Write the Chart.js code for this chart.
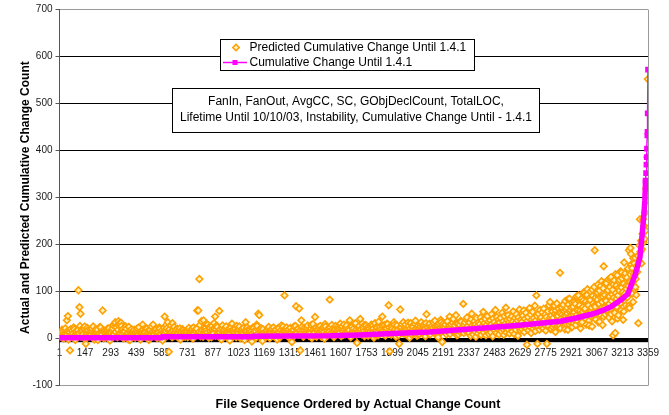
<!DOCTYPE html>
<html>
<head>
<meta charset="utf-8">
<script src="https://cdn.jsdelivr.net/npm/chart.js@4.4.1/dist/chart.umd.min.js"></script>
<style>
  html, body { margin: 0; padding: 0; background: #ffffff; }
  canvas { display: block; }
</style>
</head>
<body>
<canvas id="chart" width="669" height="415"></canvas>
<script>
// Category tick labels along the file sequence
const xTickLabels = [1, 147, 293, 439, 585, 731, 877, 1023, 1169, 1315, 1461, 1607,
  1753, 1899, 2045, 2191, 2337, 2483, 2629, 2775, 2921, 3067, 3213, 3359];

// Actual cumulative change count (files sorted by actual count)
const actualFiles = [1, 584, 585, 1104, 1105, 1545, 1717, 1900, 2115, 2289, 2496, 2575,
  2700, 2861, 2950, 3047, 3100, 3148, 3199, 3244, 3266, 3285, 3298, 3313, 3326, 3336,
  3341, 3345, 3348, 3350, 3352, 3353, 3355, 3356, 3357, 3359];
const actualCounts = [2, 2, 4, 4, 5, 6, 8, 11, 14, 19, 25, 27,
  31, 37, 44, 53, 60, 68, 81, 95, 117, 135, 152, 173, 223, 266,
  294, 336, 352, 370, 386, 404, 432, 440, 479, 572];

// Predicted cumulative change, files 1..1165 (every 6th file)
const predAFirst = 1, predAStep = 6;
const predA = [
  8, 12, 3, 15, 0, 18, 10, 39, 48, 14,
  -25, 9, 17, 4, 20, -3, 16, 7, 103, 67,
  53, 13, 22, 2, 26, -11, 10, 18, 5, 14,
  9, 21, 26, -2, 15, 11, 19, 7, 12, 24,
  13, 60, 1, 17, 5, 14, 10, 22, -4, 12,
  18, 29, 9, 35, 24, 3, 37, 32, 11, 27,
  20, 0, 15, 26, 5, 12, 25, -3, 9, 14,
  11, 19, 2, 15, 22, 8, 13, -2, 17, 30,
  10, 16, 4, 21, 12, -3, 18, 9, 14, 30,
  8, 15, 20, 1, 13, 24, 10, 17, -4, 12,
  47, 16, 22, 35, -28, 12, 28, 3, 18, 25,
  14, 6, 21, 11, 17, -2, 13, 20, 9, 15,
  12, 18, 3, 23, 10, 16, 21, 0, 14, 19,
  15, 60, 60, 127, 5, 37, 9, 39, 17, 24,
  18, 30, 2, 22, 8, 27, 15, 33, 47, 20,
  25, 6, 59, 20, -2, 28, 16, 11, 22, 4,
  13, 19, -4, 24, 32, 15, 6, 21, 3, 17,
  12, 26, 1, 18, 14, 23, -3, 35, 16, 8,
  20, 4, 15, -6, 24, 13, 18, 2, 27, 53,
  50, 14, 22, -5, 11
];

// Predicted cumulative change, files 4..1168 (every 6th file)
const predA2First = 4, predA2Step = 6;
const predA2 = [
  5, 14, 19, 2, 11, 22, 7, 16, -2, 13,
  20, 6, 10, 24, 1, 15, 8, 18, 12, 27,
  4, 17, 9, 21, -1, 14, 23, 6, 11, 19,
  16, 3, 12, 8, 20, 14, -3, 10, 25, 5,
  9, 18, 13, 2, 16, 21, 7, 11, 15, 4,
  22, 10, 31, 14, 6, 19, 28, 12, 34, 8,
  13, 17, 4, 21, 10, -2, 16, 12, 20, 7,
  15, 5, 12, 18, 9, 24, 3, 14, 11, 19,
  6, 13, 22, 8, 17, 2, 11, 26, 15, 9,
  18, 4, 12, 16, 7, 21, 10, 2, 14, 23,
  11, 29, 6, 17, 20, 9, 15, 33, 5, 13,
  19, 10, 3, 16, 22, 12, 7, 18, 14, 4,
  9, 15, 20, 6, 13, 17, 2, 24, 11, 16,
  21, 8, 14, 29, 12, 18, 4, 22, 10, 31,
  13, 7, 25, 16, 3, 19, 11, 21, 6, 28,
  10, 17, 14, 2, 23, 12, 19, 7, 26, 15,
  8, 22, 11, 16, 5, 20, 13, 9, 27, 14,
  18, 6, 15, 21, 10, 3, 17, 12, 24, 9,
  14, 19, 7, 12, 22, 5, 16, 30, 11, 18,
  6, 17, 12, 20, 9
];

// Predicted cumulative change, files 1171..2335 (every 6th file)
const predBFirst = 1171, predBStep = 6;
const predB = [
  12, 3, 18, 8, 25, 1, 14, 21, 6, 16,
  10, 19, -2, 23, 13, 7, 28, 11, 17, 92,
  15, 24, 5, 20, 2, 14, -7, 18, 26, 8,
  69, 12, 21, 64, -25, 39, 16, 4, 23, 11,
  19, 28, 6, 15, 22, 1, 31, 14, 46, 24,
  9, 20, 13, 27, 4, 18, 25, 0, 26, 8,
  17, 22, 83, 11, 29, 15, 3, 21, 13, 24,
  10, 18, 32, 5, 26, 8, 20, 16, 28, 12,
  22, 39, 3, 25, 17, 9, 30, 19, -9, 15,
  27, 42, 11, 32, 21, 5, 29, 8, 24, 18,
  13, 26, 19, 28, 2, 33, 16, 23, 7, 20,
  25, 14, 47, 18, 29, 6, 22, 31, 71, -27,
  17, 26, 11, 35, 20, 4, 28, 9, -11, 62,
  24, 13, 35, 19, 30, 8, 22, 27, 2, 33,
  18, 25, 12, 31, 21, 6, 28, 10, 26, 35,
  14, 29, 22, 5, 52, 24, 11, 32, 19, 27,
  23, 15, 38, 20, 28, 3, 33, 18, 35, -7,
  26, 16, 30, 9, 37, 13, 47, 24, 19, 34,
  21, 28, 50, 7, 32, 25, 14, 36, 23, 74,
  29, 18, 40, 26, 12
];

// Predicted cumulative change, files 1174..2332 (every 6th file)
const predB2First = 1174, predB2Step = 6;
const predB2 = [
  7, 16, 11, 21, 4, 14, 19, 9, 24, 12,
  17, 6, 13, 22, 2, 18, 10, 26, 15, 8,
  20, 11, 16, 3, 23, 13, 9, 19, 6, 27,
  14, 21, 8, 17, 12, 25, 5, 18, 10, 15,
  23, 9, 16, 12, 29, 7, 19, 13, 21, 4,
  16, 25, 10, 18, 6, 22, 14, 31, 11, 19,
  8, 15, 24, 12, 20, 5, 17, 27, 10, 14,
  22, 13, 6, 19, 15, 30, 9, 23, 17, 11,
  18, 7, 26, 14, 21, 12, 33, 8, 16, 24,
  13, 20, 9, 25, 16, 11, 28, 19, 6, 22,
  15, 30, 12, 21, 8, 17, 25, 14, 36, 10,
  19, 13, 27, 9, 22, 16, 32, 11, 24, 18,
  8, 21, 15, 29, 12, 26, 18, 7, 23, 14,
  31, 17, 10, 25, 20, 13, 34, 16, 22, 9,
  27, 12, 19, 38, 15, 24, 8, 21, 30, 17,
  11, 26, 20, 33, 14, 18, 29, 9, 23, 16,
  35, 12, 25, 19, 7, 28, 22, 40, 15, 31,
  18, 24, 13, 36, 21, 27, 10, 30, 16, 42,
  25, 14, 33, 20, 9, 29, 38, 17, 26, 12,
  35, 22, 45, 19
];

// Predicted cumulative change, files 2338..3358 (every 3rd file)
const predCFirst = 2338, predCStep = 3;
const predC = [
  12, 34, 22, 6, 41, 53, 28, 18, 9, 25, 37, 15, 30, 4, 44, 20, 27, 11, 35, 23,
  31, 16, 45, 8, 26, 38, 19, 57, 13, 33, 24, 42, 7, 29, 17, 48, 21, 36, 10, 27,
  39, 14, 30, 52, 22, 5, 43, 26, 35, 18, 61, 28, 12, 46, 32, 20, 40, 9, 34, 25,
  44, 16, 29, 55, 21, 37, 8, 48, 31, 24, 66, 13, 40, 27, 50, 19, 35, 11, 42, 30,
  23, 47, 15, 36, 58, 26, 10, 44, 33, 19, 52, 28, 39, 6, 45, 24, 62, 30, 17, 41,
  35, 20, 49, 27, 60, 14, 42, 31, 55, 22, -13, 38, 46, 18, 29, 65, 25, 51, 12, 40,
  33, 57, 21, 44, 28, 70, 16, 39, 92, 48, -11, 26, 53, 35, 19, 61, 30, 45, 24, 56,
  37, 22, 64, 41, 29, 52, 17, 46, -11, 33, 58, 27, 71, 40, 78, 20, 49, 36, 62, 25,
  44, 30, 69, 53, 18, 60, 38, 75, 27, 48, 64, 33, 56, 140, 22, 43, 67, 51, 35, 72,
  39, 58, 26, 80, 47, 31, 66, 54, 19, 73, 42, 85, 36, 61, 50, 24, 77, 45, 68, 33,
  56, 40, 74, 29, 88, 51, 63, 37, 92, 70, 46, 59, 22, 83, 55, 35, 67, 81, 48, 97,
  62, 44, 79, 30, 95, 105, 53, 71, 38, 86, 58, 100, 47, 66, 26, 91, 75, 52, 110, 188,
  68, 41, 96, 57, 83, 115, 35, 74, 102, 60, 88, 49, 122, 78, 29, 107, 154, 65, 93, 52,
  84, 118, 58, 99, 71, 126, 45, 90, 110, 63, 131, 80, 37, 104, 7, 87, 124, 55, 12, 97,
  113, 68, 135, 92, 50, 121, 102, 76, 143, 60, 109, 128, 85, 40, 117, 162, 95, 139, 71, 106,
  130, 88, 146, 112, 188, 65, 124, 193, 180, 98, 150, 119, 78, 138, 160, 105, 172, 127, 93, 155,
  142, 176, 33, 165, 198, 254, 185, 208, 160, 190, 223, 254, 205, 240, 212, 268, 230, 319, 294, 386,
  552
];

// Predicted cumulative change, files 2801..3287 (every 6th file)
const predC2First = 2801, predC2Step = 6;
const predC2 = [
  45, 21, 58, 32, 70, 14, 50, 39, 63, 27, 54,
  36, 72, 48, 20, 61, 43, 84, 31, 56, 67, 25,
  52, 78, 38, 90, 60, 46, 71, 33, 85, 57, 99,
  64, 42, 93, 75, 28, 82, 59, 104, 48, 70, 87,
  54, 98, 73, 36, 112, 66, 89, 47, 118, 80, 61,
  103, 74, 128, 52, 94, 115, 69, 137, 85, 43, 108,
  125, 76, 141, 99, 58, 132, 112, 88, 149, 70, 120,
  158, 96, 171, 134, 110
];

const FONT = "'Liberation Sans', Arial, sans-serif";
const ORANGE = '#FFA000';
const ORANGE_FILL = '#FFF0BE';
const MAGENTA = '#FF00FF';

const toPoints = (vals, first, step) => vals.map((v, i) => ({ x: first + step * i, y: v }));
const predicted = [
  ...toPoints(predA, predAFirst, predAStep),
  ...toPoints(predA2, predA2First, predA2Step),
  ...toPoints(predB, predBFirst, predBStep),
  ...toPoints(predB2, predB2First, predB2Step),
  ...toPoints(predC, predCFirst, predCStep),
  ...toPoints(predC2, predC2First, predC2Step)
].sort((a, b) => a.x - b.x);
const actual = actualFiles.map((f, i) => ({ x: f, y: actualCounts[i] }));

// Frame, zero band, legend box, model note and x-axis title
const decorations = {
  id: 'decorations',
  beforeDatasetsDraw(chart) {
    const { ctx, chartArea: a, scales: { y } } = chart;
    const y0 = y.getPixelForValue(0);
    ctx.save();
    ctx.fillStyle = '#000';
    ctx.fillRect(a.left, y0 - 0.3, a.right - a.left, 3.8);
    ctx.strokeStyle = '#9a9a9a';
    ctx.lineWidth = 1;
    ctx.beginPath();
    ctx.moveTo(a.right + 0.5, a.top);
    ctx.lineTo(a.right + 0.5, a.bottom);
    ctx.stroke();
    ctx.restore();
  },
  afterDraw(chart) {
    const { ctx } = chart;
    ctx.save();
    ctx.lineWidth = 1;
    ctx.strokeStyle = '#000';
    ctx.fillStyle = '#fff';

    // legend box
    ctx.fillRect(220.5, 39.5, 254, 31);
    ctx.strokeRect(220.5, 39.5, 254, 31);
    ctx.fillStyle = ORANGE_FILL;
    ctx.strokeStyle = ORANGE;
    ctx.lineWidth = 1.6;
    Chart.helpers.drawPoint(ctx, { pointStyle: 'rectRot', radius: 3.2, borderWidth: 1.6 }, 236, 47.5);
    ctx.strokeStyle = MAGENTA;
    ctx.lineWidth = 1.5;
    ctx.beginPath();
    ctx.moveTo(223, 62.5);
    ctx.lineTo(247, 62.5);
    ctx.stroke();
    ctx.fillStyle = MAGENTA;
    ctx.fillRect(232.5, 60, 5, 5);
    ctx.fillStyle = '#000';
    ctx.font = '12px ' + FONT;
    ctx.textBaseline = 'middle';
    ctx.textAlign = 'left';
    ctx.fillText('Predicted Cumulative Change Until 1.4.1', 249.5, 47.5);
    ctx.fillText('Cumulative Change Until 1.4.1', 249.5, 62.5);

    // model note box
    ctx.lineWidth = 1;
    ctx.strokeStyle = '#000';
    ctx.fillStyle = '#fff';
    ctx.fillRect(172.5, 88.5, 367, 44);
    ctx.strokeRect(172.5, 88.5, 367, 44);
    ctx.fillStyle = '#000';
    ctx.textAlign = 'center';
    ctx.fillText('FanIn, FanOut, AvgCC, SC, GObjDeclCount, TotalLOC,', 356, 102);
    ctx.fillText('Lifetime Until 10/10/03, Instability, Cumulative Change Until - 1.4.1', 356, 118);

    // x-axis title
    ctx.font = 'bold 12.5px ' + FONT;
    ctx.fillText('File Sequence Ordered by Actual Change Count', 358, 405);
    ctx.restore();
  }
};

new Chart(document.getElementById('chart'), {
  type: 'scatter',
  data: {
    datasets: [
      {
        label: 'Cumulative Change Until 1.4.1',
        data: actual,
        showLine: true,
        borderColor: MAGENTA,
        backgroundColor: MAGENTA,
        borderWidth: 5.5,
        borderJoinStyle: 'round',
        borderCapStyle: 'round',
        tension: 0,
        segment: {
          borderWidth: ctx => (ctx.p1.parsed.y > 340 ? 1.5 : 5.5)
        },
        pointStyle: 'rect',
        pointRadius: ctx => (ctx.raw && ctx.raw.y >= 336 ? 4 : 0),
        pointBorderWidth: 0,
        pointHoverRadius: 0
      },
      {
        label: 'Predicted Cumulative Change Until 1.4.1',
        data: predicted,
        pointStyle: 'rectRot',
        pointRadius: 3.3,
        pointBorderWidth: 1.6,
        borderColor: ORANGE,
        backgroundColor: ORANGE_FILL,
        pointHoverRadius: 0
      }
    ]
  },
  options: {
    responsive: false,
    animation: false,
    devicePixelRatio: 1,
    layout: { padding: { left: 0, right: 21, top: 9.5, bottom: 29.3 } },
    plugins: {
      legend: { display: false },
      tooltip: { enabled: false },
      title: { display: false }
    },
    scales: {
      x: {
        type: 'linear',
        min: 1,
        max: 3359,
        position: { y: 0 },
        afterFit(s) { s.height = 0; },
        afterBuildTicks(s) { s.ticks = xTickLabels.map(v => ({ value: v })); },
        grid: { display: false, drawTicks: false },
        border: { display: false },
        ticks: {
          autoSkip: false,
          maxRotation: 0,
          padding: 9,
          color: '#1a1a1a',
          font: { family: FONT, size: 10 },
          callback: v => String(v)
        }
      },
      y: {
        min: -100,
        max: 700,
        afterFit(s) { s.width = 59.5; },
        grid: {
          color: ctx => (ctx.tick && (ctx.tick.value === 700 || ctx.tick.value === -100) ? '#9a9a9a' : '#000'),
          tickColor: '#555',
          tickLength: 4,
          lineWidth: 1
        },
        border: { color: '#555', width: 1 },
        ticks: {
          stepSize: 100,
          padding: 3,
          color: '#1a1a1a',
          font: { family: FONT, size: 10 }
        },
        title: {
          display: true,
          text: 'Actual and Predicted Cumulative Change Count',
          color: '#000',
          font: { family: FONT, size: 12, weight: 'bold' },
          padding: { top: 18, bottom: 0 }
        }
      }
    }
  },
  plugins: [decorations]
});
</script>
</body>
</html>
